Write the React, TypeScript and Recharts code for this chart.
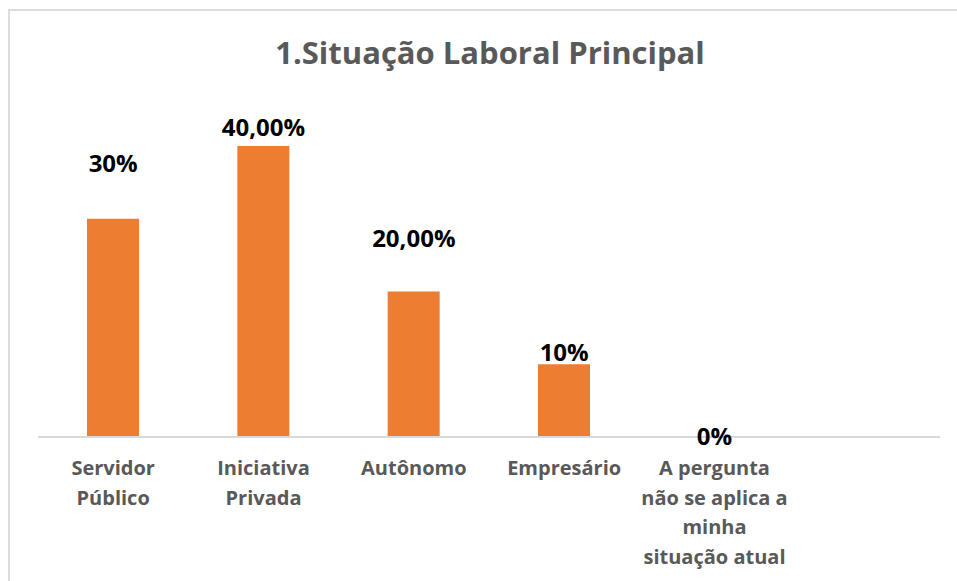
import React from 'react';
import { ComposedChart, Bar, Line, XAxis, YAxis, LabelList } from 'recharts';

const categories = [
  'Servidor\nPúblico',
  'Iniciativa\nPrivada',
  'Autônomo',
  'Empresário',
  'A pergunta\nnão se aplica a\nminha\nsituação atual',
  '',
];
const shares = [30, 40, 20, 10, 0, null];
const valueLabels = ['30%', '40,00%', '20,00%', '10%', '0%', ''];

// how far each data label's baseline sits above its bar top (Excel moved them by hand)
const labelLift = [47, 10, 45, 3, -8, 0];

const data = categories.map((name, i) => ({ name, share: shares[i], label: valueLabels[i] }));

const FONT = '"Open Sans", "Noto Sans", sans-serif';

const CategoryTick = (props: any) => {
  const { x, y, payload } = props;
  const lines = String(payload.value).split('\n');
  return (
    <text x={x} y={y} textAnchor="middle" fill="#595959" fontFamily={FONT} fontSize={20} fontWeight={700}>
      {lines.map((line, i) => (
        <tspan key={i} x={x} y={y + 38 + i * 29.5}>
          {line}
        </tspan>
      ))}
    </text>
  );
};

const ValueLabel = (props: any) => {
  const { x, y, index, value } = props;
  if (!value) return null;
  return (
    <text
      x={x}
      y={y - labelLift[index]}
      textAnchor="middle"
      fill="#000000"
      fontFamily={FONT}
      fontSize={24}
      fontWeight={700}
    >
      {value}
    </text>
  );
};

export default function App() {
  return (
    <div style={{ position: 'absolute', left: 0, top: 0, width: 957, height: 581, overflow: 'hidden', background: '#ffffff' }}>
      <div
        style={{
          position: 'absolute',
          left: 8,
          top: 9,
          width: 1000,
          height: 640,
          border: '2px solid #dcdcdc',
          boxSizing: 'border-box',
        }}
      />
      <div
        style={{
          position: 'absolute',
          left: 0,
          top: 30,
          width: 980,
          textAlign: 'center',
          fontFamily: FONT,
          fontSize: 31,
          fontWeight: 700,
          color: '#595959',
          lineHeight: '44px',
        }}
      >
        1.Situação Laboral Principal
      </div>
      <div style={{ position: 'absolute', left: 0, top: 0 }}>
        <ComposedChart width={957} height={581} data={data} margin={{ top: 146, right: 17, bottom: 24, left: 38 }}>
          <XAxis
            dataKey="name"
            interval={0}
            height={120}
            tickLine={false}
            tickSize={0}
            tickMargin={0}
            axisLine={{ stroke: '#d9d9d9', strokeWidth: 2 }}
            tick={<CategoryTick />}
          />
          <YAxis hide domain={[0, 40]} />
          <Bar dataKey="share" fill="#ED7D31" barSize={52} isAnimationActive={false} />
          <Line
            dataKey="share"
            stroke="none"
            dot={false}
            activeDot={false}
            legendType="none"
            isAnimationActive={false}
          >
            <LabelList dataKey="label" content={<ValueLabel />} />
          </Line>
        </ComposedChart>
      </div>
    </div>
  );
}
